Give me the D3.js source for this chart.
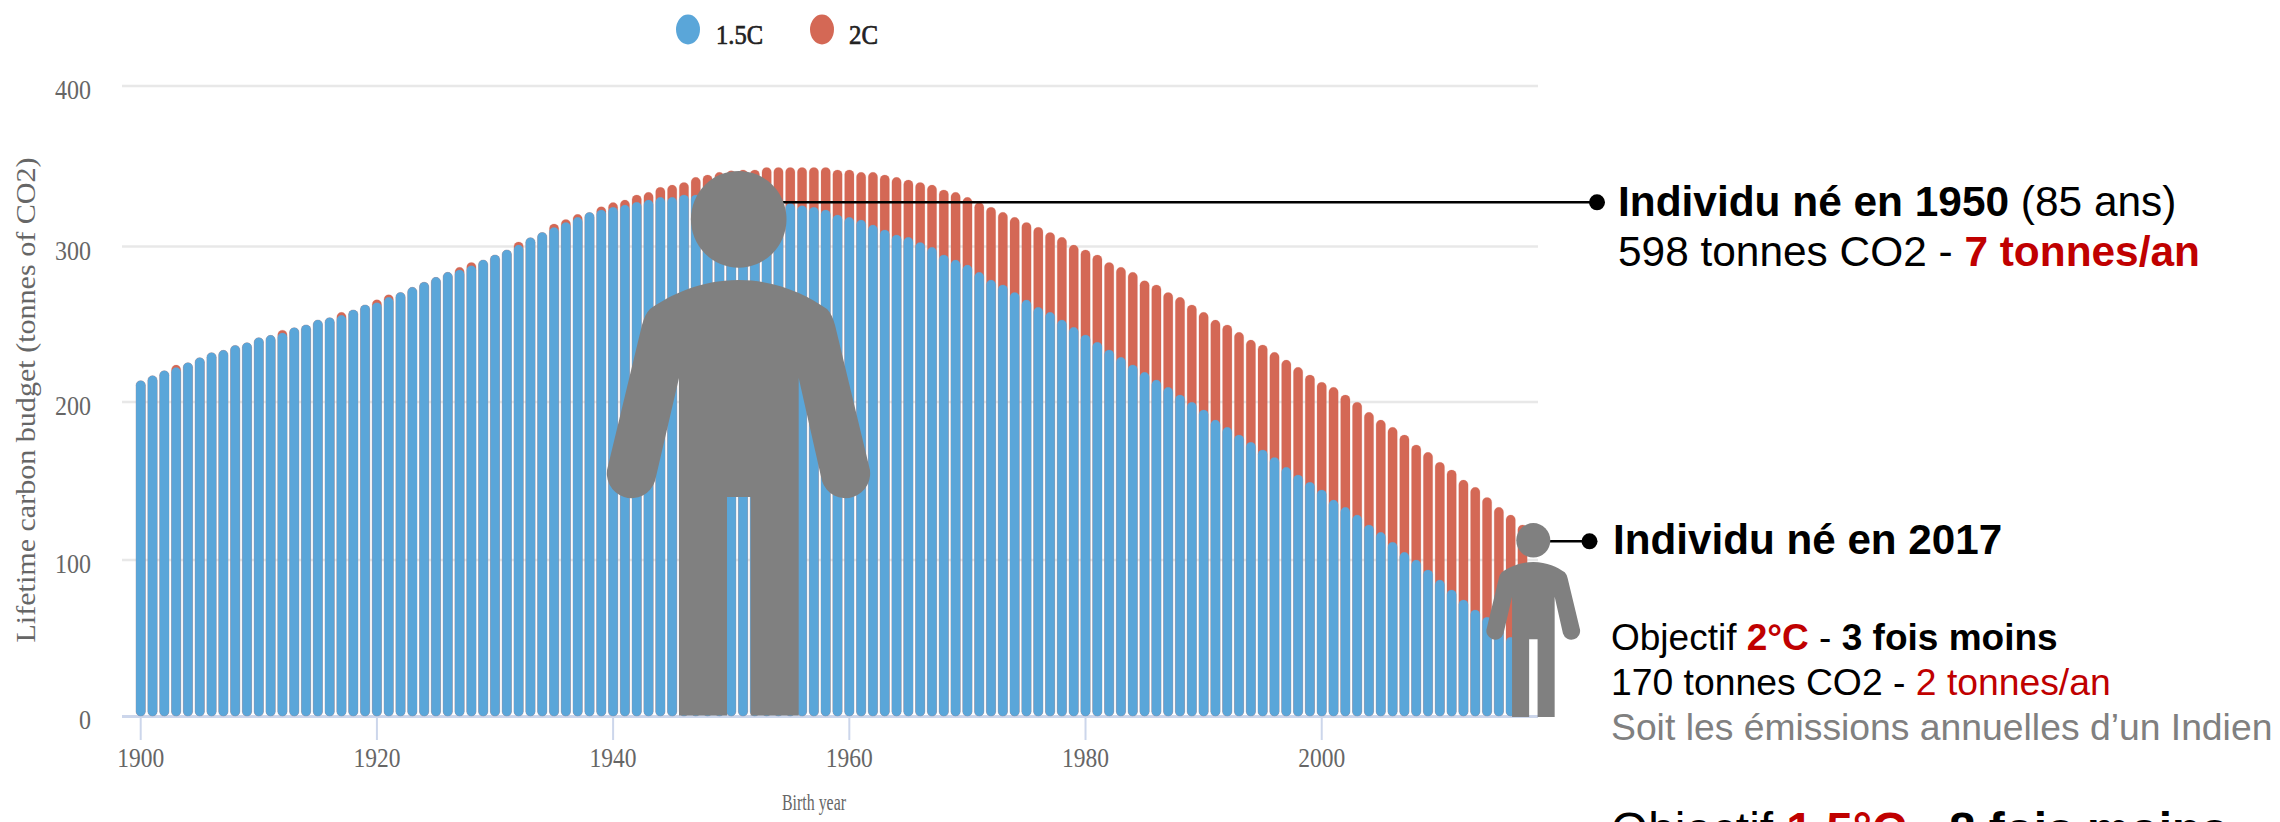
<!DOCTYPE html>
<html>
<head>
<meta charset="utf-8">
<script src="https://cdn.jsdelivr.net/npm/d3@7"></script>
<style>
html,body{margin:0;padding:0;background:#fff;overflow:hidden}
svg{display:block}
.serif{font-family:"Liberation Serif",serif}
.sans{font-family:"Liberation Sans",Arial,sans-serif}
</style>
</head>
<body>
<svg id="c" width="2280" height="822"></svg>
<script>
const years = d3.range(1900, 2018);
const budget15 = [
212.9,216,219.2,221.2,224.3,227.5,230.7,232.2,235.3,237,
240.2,241.7,243.2,246.5,248.3,251.4,252.9,254.4,257.8,261,
262.4,265.8,268.9,272.2,275.4,278.5,281.7,283.2,285.9,289.5,
292.7,295.9,299,303.7,307,310.2,313.4,316.6,319.7,321.3,
323,324.4,326.2,327.6,329.3,329.3,330.8,330.8,331.4,331.5,
331.5,331,330,329,327,325.5,324,323,321.3,318.1,
316.6,314.9,311.7,308.6,305.4,303.9,300.7,297.6,292.7,289.5,
286.3,281.7,276.8,273.7,268.9,264.1,259.5,256.3,251.4,246.8,
241.9,237.3,232.4,227.7,222.9,218.2,213.3,208.7,203.8,199.2,
194.3,187.9,183.3,178.4,173.8,168.9,164.2,157.9,153,148.4,
143.5,137.1,132.5,127.6,121.3,116.6,110.3,103.9,99,92.7,
86.3,80,73.7,67.3,62.7,56.3,50,44];
const budget2 = [
212.9,216,219.2,222.8,224.3,227.5,230.7,232.2,235.3,237,
240.2,241.7,245,246.5,248.3,251.4,252.9,256.3,257.8,261,
264.3,267.5,268.9,272.2,275.4,278.5,281.7,284.9,288,289.5,
292.7,295.9,301,303.7,307,312.4,315.3,318.5,319.7,323.4,
326,327.6,330.8,332.5,335.7,337.1,338.8,342,343.5,345.2,
346.2,346.7,346.7,348.3,348.3,348.3,348.3,348.3,348.3,346.7,
346.7,345.2,345.2,343.5,342,340.3,338.8,337.1,334,332.5,
329.3,326,323,319.8,316.6,313.4,310.3,307,303.9,299,
295.9,292.7,288,284.9,281.7,276.4,273.7,268.9,265.8,261,
256.3,251.4,248.3,243.6,238.7,235.6,230.9,226,221.4,216.5,
211.9,208.7,203.8,199.2,192.8,187.9,183.3,178.4,172.1,167.4,
161.1,156.2,149.8,145.2,138.8,132.5,127.6,121.3];
const xTicks = [1900,1920,1940,1960,1980,2000];
const yTicks = [0,100,200,300,400];
const legendItems = ["1.5C","2C"];
const xTitle = "Birth year";
const yTitle = "Lifetime carbon budget (tonnes of CO2)";

const BLUE="#5aa6d9", RED="#d46855", GRAY="#808080", DARKRED="#c00000";
const svg=d3.select("#c");
const x=d3.scaleBand().domain(years).range([134.8,1528.4]).paddingInner(0.21).paddingOuter(0.105);
const y=d3.scaleLinear().domain([0,400]).range([716,86]);
// the reference picture is slightly warped: its gridlines are not evenly spaced
const yGrid=d3.scaleLinear().domain(yTicks).range([716,560,402,246.5,86]);

// gridlines
svg.append("g").selectAll("line").data(yTicks.filter(d=>d>0)).join("line")
 .attr("x1",122).attr("x2",1538).attr("y1",d=>yGrid(d)).attr("y2",d=>yGrid(d))
 .attr("stroke","#e8e8e8").attr("stroke-width",2.5);

// y axis labels
const yAxis=svg.append("g").attr("transform","translate(91,0)").call(d3.axisLeft(yGrid).tickValues(yTicks).tickSize(0).tickPadding(0));
yAxis.select(".domain").remove();
yAxis.selectAll("text").attr("class","serif").attr("font-size",28).attr("fill","#666").attr("dy",12.5)
 .attr("textLength",d=>String(d).length*12).attr("lengthAdjust","spacingAndGlyphs");

// x axis
const xAxis=svg.append("g").attr("transform","translate(0,716)").call(d3.axisBottom(x).tickValues(xTicks).tickSize(24).tickPadding(7));
xAxis.select(".domain").remove();
xAxis.selectAll("line").attr("stroke","#ccd6eb").attr("stroke-width",2);
xAxis.selectAll("text").attr("class","serif").attr("font-size",28).attr("fill","#666").attr("dy",".72em")
 .attr("textLength",47).attr("lengthAdjust","spacingAndGlyphs");
svg.append("line").attr("x1",122).attr("x2",1538).attr("y1",716.5).attr("y2",716.5).attr("stroke","#ccd6eb").attr("stroke-width",3);

// bars
const rows=years.map((yr,i)=>({yr,a:budget15[i],b:budget2[i]}));
const r=Math.min(x.bandwidth()/2,4.6);
svg.append("g").selectAll("rect").data(rows).join("rect")
 .attr("x",d=>x(d.yr)).attr("width",x.bandwidth()).attr("y",d=>y(d.b)).attr("height",d=>y(0)-y(d.b))
 .attr("rx",r).attr("ry",r).attr("fill",RED).attr("stroke",RED).attr("stroke-opacity",.25).attr("stroke-width",.8);
svg.append("g").selectAll("rect").data(rows).join("rect")
 .attr("x",d=>x(d.yr)).attr("width",x.bandwidth()).attr("y",d=>y(d.a)).attr("height",d=>y(0)-y(d.a))
 .attr("rx",r).attr("ry",r).attr("fill",BLUE).attr("stroke",BLUE).attr("stroke-opacity",.3).attr("stroke-width",.8);

// axis titles
svg.append("text").attr("class","serif").attr("transform","translate(35,400) rotate(-90)").attr("text-anchor","middle")
 .attr("font-size",27).attr("fill","#666").attr("textLength",485).attr("lengthAdjust","spacingAndGlyphs").text(yTitle);
svg.append("text").attr("class","serif").attr("x",814).attr("y",810).attr("text-anchor","middle")
 .attr("font-size",24).attr("fill","#666").attr("textLength",64).attr("lengthAdjust","spacingAndGlyphs").text(xTitle);

// legend
const lg=[{cx:688,tx:716,tl:47,c:BLUE},{cx:822,tx:849,tl:29,c:RED}];
legendItems.forEach((t,i)=>{
 svg.append("ellipse").attr("cx",lg[i].cx).attr("cy",29.5).attr("rx",12).attr("ry",15).attr("fill",lg[i].c);
 svg.append("text").attr("class","serif").attr("x",lg[i].tx).attr("y",44).attr("font-size",28).attr("fill","#222")
  .attr("stroke","#222").attr("stroke-width",.7)
  .attr("textLength",lg[i].tl).attr("lengthAdjust","spacingAndGlyphs").text(t);
});

// leader lines
function leader(x1,x2,yy){
 svg.append("line").attr("x1",x1).attr("x2",x2).attr("y1",yy).attr("y2",yy).attr("stroke","#000").attr("stroke-width",2.6);
 svg.append("circle").attr("cx",x2).attr("cy",yy).attr("r",8).attr("fill","#000");
}
leader(770,1597,202.3);
leader(1540,1589.5,541.3);

// people
const bodyPath="M738.7,280 C700,280 670,295 650,309 Q645,314 642,325 L608,466 A24,24 0 0 0 655,481 L679,378 L679,715.5 L727,715.5 L727,497 L750.7,497 L750.7,715.5 L798.7,715.5 L798.7,378 L822,481 A24,24 0 0 0 869,466 L835,325 Q832,314 827,309 C807,295 777,280 738.7,280 Z";
function person(tr){
 const g=svg.append("g").attr("transform",tr).attr("fill",GRAY);
 g.append("ellipse").attr("cx",738.7).attr("cy",219.3).attr("rx",47.8).attr("ry",48.4);
 g.append("path").attr("d",bodyPath);
}
person("translate(0,0)");
const s=0.356;
person(`translate(${1533.3-738.7*s},${717-715.5*s}) scale(${s})`);

// annotations
function line(xp,yp,size,parts){
 const t=svg.append("text").attr("class","sans").attr("x",xp).attr("y",yp).attr("font-size",size).attr("xml:space","preserve");
 parts.forEach(p=>t.append("tspan").attr("font-weight",p[1]?"bold":"normal").attr("fill",p[2]||"#000").text(p[0]));
}
line(1618,215.7,42.4,[["Individu né en 1950",1],[" (85 ans)",0]]);
line(1618,266,42.4,[["598 tonnes CO2 - ",0],["7 tonnes/an",1,DARKRED]]);
line(1613,554,42.2,[["Individu né en 2017",1]]);
line(1611,650,37,[["Objectif ",0],["2°C",1,DARKRED],[" - ",0],["3 fois moins",1]]);
line(1611,695,37.3,[["170 tonnes CO2 - ",0],["2 tonnes/an",0,DARKRED]]);
line(1611,740,37.3,[["Soit les émissions annuelles d’un Indien",0,GRAY]]);
line(1611,846,47.8,[["Objectif ",0],["1.5°C",1,DARKRED],[" - ",0],["8 fois moins",1]]);
</script>
</body>
</html>
